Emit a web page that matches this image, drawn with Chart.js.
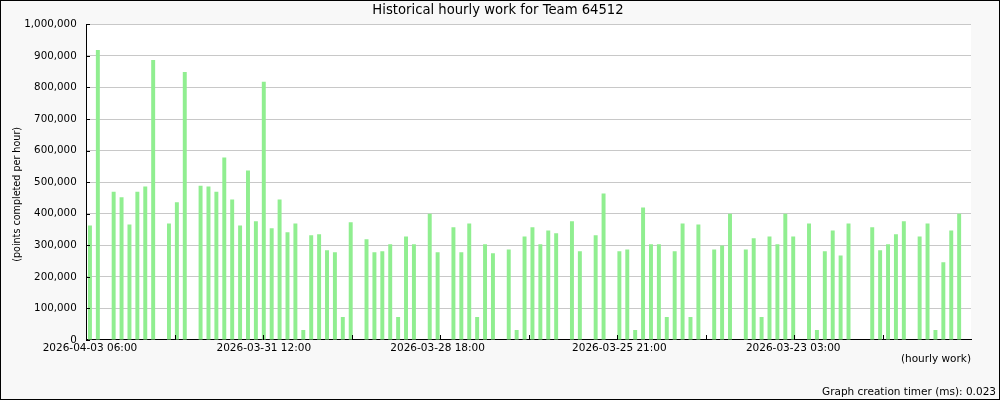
<!DOCTYPE html>
<html>
<head>
<meta charset="utf-8">
<title>Historical hourly work for Team 64512</title>
<script src="https://cdn.jsdelivr.net/npm/chart.js@4.4.1/dist/chart.umd.min.js"></script>
<style>
  html, body { margin: 0; padding: 0; background: #f8f8f8; }
  canvas { display: block; }
</style>
</head>
<body>
<canvas id="work-chart" width="1000" height="400"></canvas>
<script>
// points completed per slot, newest slot first (null = nothing reported)
var points = [
  363000, 919000, null, 470000, 452000, 366000, 470000, 486000, 887000, null,
  369000, 436000, 849000, null, 489000, 486000, 470000, 578000, 445000, 363000,
  537000, 376000, 818000, 354000, 445000, 341000, 369000, 32000, 332000, 335000,
  284000, 278000, 73000, 373000, null, 319000, 278000, 281000, 303000, 73000,
  328000, 303000, null, 400000, 278000, null, 357000, 278000, 369000, 73000,
  303000, 275000, null, 287000, 32000, 328000, 357000, 303000, 347000, 338000,
  null, 376000, 281000, null, 332000, 464000, null, 281000, 287000, 32000,
  420000, 303000, 303000, 73000, 281000, 369000, 73000, 366000, null, 287000,
  299000, 400000, null, 287000, 322000, 73000, 328000, 303000, 400000, 328000,
  null, 369000, 32000, 281000, 347000, 268000, 369000, null, null, 357000,
  284000, 303000, 335000, 376000, null, 328000, 369000, 32000, 246000, 347000,
  400000, null
];

// x axis text labels and the slot each one sits under
var labelSlots = [0, 22, 44, 67, 89];
var labelTexts = ["2026-04-03 06:00", "2026-03-31 12:00", "2026-03-28 18:00",
                  "2026-03-25 21:00", "2026-03-23 03:00"];
// where the small x tick marks fall (in slots)
var markSlots = [0, 11.2, 22.4, 33.6, 44.8, 56, 67.2, 78.4, 89.6, 100.8];

var yMax = 1000000;
var yStep = 100000;

var categories = [];
for (var i = 0; i < points.length; i++) {
  var k = labelSlots.indexOf(i);
  categories.push(k >= 0 ? labelTexts[k] : "");
}

Chart.defaults.font.family = "'DejaVu Sans', sans-serif";
Chart.defaults.color = "#000";

var framePlugin = {
  id: "frame",
  beforeDraw: function(chart) {
    var ctx = chart.ctx, a = chart.chartArea;
    ctx.save();
    ctx.fillStyle = "#f8f8f8";
    ctx.fillRect(0, 0, chart.width, chart.height);
    ctx.fillStyle = "#ffffff";
    ctx.fillRect(a.left, a.top, a.right - a.left, a.bottom - a.top);
    ctx.restore();
  },
  afterDraw: function(chart) {
    var ctx = chart.ctx, a = chart.chartArea;
    var xs = chart.scales.x, ys = chart.scales.y;
    ctx.save();
    ctx.strokeStyle = "#000";
    ctx.lineWidth = 1;
    ctx.beginPath();
    ys.ticks.forEach(function(t) {
      var y = Math.round(ys.getPixelForValue(t.value)) + 0.5;
      ctx.moveTo(a.left, y);
      ctx.lineTo(a.left + 4, y);
    });
    markSlots.forEach(function(s) {
      var x = Math.round(xs.getPixelForValue(s - 0.5)) + 0.5;
      ctx.moveTo(x, a.bottom);
      ctx.lineTo(x, a.bottom - 5);
    });
    ctx.stroke();
    ctx.strokeRect(0.5, 0.5, chart.width - 1, chart.height - 1);
    ctx.restore();
  }
};

new Chart(document.getElementById("work-chart"), {
  type: "bar",
  data: {
    labels: categories,
    datasets: [{
      data: points,
      backgroundColor: "#90ee90",
      borderWidth: 0,
      barPercentage: 0.5,
      categoryPercentage: 1.0
    }]
  },
  options: {
    responsive: false,
    animation: false,
    layout: { padding: { left: 0, right: 4, top: 0, bottom: 0 } },
    plugins: {
      legend: { display: false },
      tooltip: { enabled: false },
      title: {
        display: true,
        text: "Historical hourly work for Team 64512",
        font: { size: 13.2, weight: "normal" },
        color: "#000",
        padding: { top: 3, bottom: 5.5 }
      },
      subtitle: {
        display: true,
        position: "bottom",
        align: "end",
        text: "Graph creation timer (ms): 0.023",
        font: { size: 10.5 },
        color: "#000",
        padding: { top: 0, bottom: 1.5 }
      }
    },
    scales: {
      x: {
        grid: { drawOnChartArea: false, drawTicks: false },
        border: { color: "#000", width: 1 },
        ticks: {
          autoSkip: false,
          maxRotation: 0,
          minRotation: 0,
          padding: 2,
          font: { size: 10.5 }
        },
        title: {
          display: true,
          text: "(hourly work)",
          align: "end",
          font: { size: 10.5 },
          padding: { top: 0, bottom: 20.6 }
        },
        afterFit: function(s) { s.height = 45.9; }
      },
      y: {
        min: 0,
        max: yMax,
        grid: { color: "#c8c8c8", drawTicks: false },
        border: { color: "#000", width: 1 },
        ticks: {
          stepSize: yStep,
          padding: 9.3,
          font: { size: 10.3 },
          callback: function(v) { return v.toLocaleString("en-US"); }
        },
        title: {
          display: true,
          // trailing spaces nudge the label a little below the plot centre, as in the original
          text: "(points completed per hour)        ",
          font: { size: 9.6 },
          padding: { top: 12, bottom: 0 }
        },
        afterFit: function(s) { s.width = 86; }
      },
      yr: {
        position: "right",
        grid: { display: false },
        border: { display: false },
        ticks: { display: false },
        afterFit: function(s) { s.width = 25; }
      }
    }
  },
  plugins: [framePlugin]
});
</script>
</body>
</html>
